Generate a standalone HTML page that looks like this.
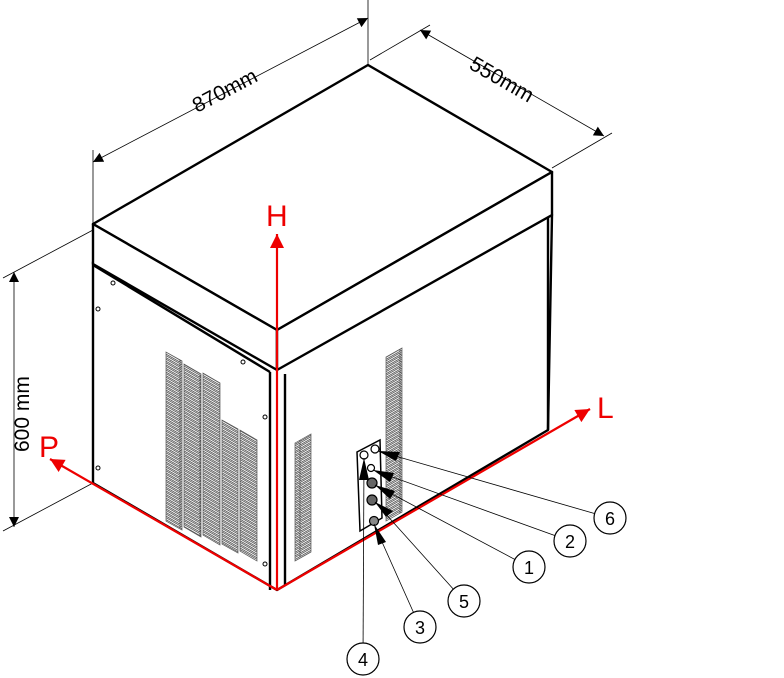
<!DOCTYPE html>
<html><head><meta charset="utf-8"><style>body{margin:0;background:#fff}svg{display:block}</style></head><body>
<svg width="784" height="678" viewBox="0 0 784 678" xmlns="http://www.w3.org/2000/svg" font-family="Liberation Sans, sans-serif">
<defs>
<pattern id="pl" width="20" height="3.6" patternUnits="userSpaceOnUse" patternTransform="skewY(30)">
<rect x="0" y="0.6" width="20" height="2" fill="none" stroke="#333" stroke-width="0.8"/>
</pattern>
<pattern id="pr" width="20" height="3.6" patternUnits="userSpaceOnUse" patternTransform="skewY(-30)">
<rect x="0" y="0.6" width="20" height="2" fill="none" stroke="#333" stroke-width="0.8"/>
</pattern>
<marker id="ab" viewBox="0 0 10 10" refX="10" refY="5" markerWidth="22" markerHeight="10" orient="auto-start-reverse" markerUnits="userSpaceOnUse"><path d="M0,0L10,5L0,10z" fill="#000"/></marker>
<marker id="ar" viewBox="0 0 10 10" refX="10" refY="5" markerWidth="24" markerHeight="14" orient="auto" markerUnits="userSpaceOnUse"><path d="M0,0L10,5L0,10z" fill="#e00"/></marker>
</defs>
<g stroke="#000" stroke-width="0.8" fill="none">
<line x1="93" y1="224" x2="93" y2="150"/>
<line x1="368" y1="65" x2="368" y2="0"/>
<line x1="93" y1="162" x2="368" y2="18" marker-start="url(#ab)" marker-end="url(#ab)"/>
<line x1="370" y1="60" x2="430" y2="25"/>
<line x1="552" y1="168" x2="612" y2="133"/>
<line x1="420" y1="30" x2="604" y2="136" marker-start="url(#ab)" marker-end="url(#ab)"/>
<line x1="93" y1="230" x2="3" y2="278"/>
<line x1="93" y1="483" x2="3" y2="531"/>
<line x1="14" y1="272" x2="14" y2="527" marker-start="url(#ab)" marker-end="url(#ab)"/>
</g>
<text x="0" y="0" font-size="21" transform="translate(197,113) rotate(-27.6)">870mm</text>
<text x="0" y="0" font-size="21" transform="translate(468,68) rotate(30)">550mm</text>
<text x="0" y="0" font-size="21" transform="translate(29,452) rotate(-90)">600 mm</text>
<g stroke="#000" stroke-width="2.4" fill="#fff" stroke-linejoin="round">
<polygon points="93,262 277,368 552,215 548,430 277,590 93,483"/>
<polygon points="93,224 368,65 552,172 277,330"/>
<polygon points="93,224 277,330 277,370 93,264"/>
<polygon points="277,330 552,172 552,215 277,370"/>
<line x1="93" y1="265" x2="270" y2="372"/>
<line x1="270" y1="372" x2="270" y2="590"/>
<line x1="285" y1="374" x2="285" y2="586"/>
<line x1="548" y1="217" x2="548" y2="430"/>
</g>
<g fill="none" stroke="#000" stroke-width="1">
<circle cx="113" cy="283" r="2"/><circle cx="98" cy="309" r="2"/><circle cx="243" cy="362" r="2"/>
<circle cx="265" cy="417" r="2"/><circle cx="265" cy="564" r="2"/><circle cx="98" cy="468" r="2"/>
</g>
<g stroke="#555" stroke-width="0.7">
<polygon points="166,352 182,361 182,530 166,521" fill="url(#pl)"/>
<polygon points="184,364 201,374 201,537 184,527" fill="url(#pl)"/>
<polygon points="203,373 220,383 220,545 203,535" fill="url(#pl)"/>
<polygon points="222,420 238,429 238,553 222,544" fill="url(#pl)"/>
<polygon points="240,430 257,440 257,561 240,551" fill="url(#pl)"/>
<polygon points="295,443 311,434 311,552 295,561" fill="url(#pr)"/>
<polygon points="386,357 402,348 402,512 386,521" fill="url(#pr)"/>
</g>
<g stroke="#e00" stroke-width="2.2" fill="none">
<line x1="277" y1="590" x2="277" y2="234" marker-end="url(#ar)"/>
<line x1="277" y1="590" x2="50" y2="459" marker-end="url(#ar)"/>
<line x1="277" y1="590" x2="590" y2="409" marker-end="url(#ar)"/>
</g>
<g fill="#e00" font-size="30">
<text x="266" y="226">H</text>
<text x="39" y="457">P</text>
<text x="597" y="418">L</text>
</g>
<polygon points="357,452 380,440 382,518 360,531" fill="#fff" stroke="#000" stroke-width="1.5"/>
<g stroke="#000" stroke-width="1.2">
<circle cx="364" cy="455" r="4" fill="#fff"/>
<circle cx="375" cy="449" r="4" fill="#fff"/>
<circle cx="371" cy="468" r="3.5" fill="#fff"/>
<circle cx="372" cy="483" r="5" fill="#666"/>
<circle cx="372" cy="500" r="5" fill="#666"/>
<circle cx="374" cy="521" r="4.5" fill="#888"/>
</g>
<g stroke="#000" stroke-width="0.8">
<line x1="378" y1="451" x2="610" y2="518"/>
<line x1="373" y1="470" x2="570" y2="541"/>
<line x1="375" y1="485" x2="529" y2="567"/>
<line x1="375" y1="502" x2="464" y2="601"/>
<line x1="374" y1="524" x2="420" y2="627"/>
<line x1="364" y1="458" x2="363" y2="659"/>
</g>
<g fill="#000">
<polygon points="378,451 400,452 396,461"/>
<polygon points="373,470 394,473 390,482"/>
<polygon points="375,485 395,491 390,499"/>
<polygon points="375,502 393,511 386,517"/>
<polygon points="374,524 386,542 378,545"/>
<polygon points="364,458 359,480 369,480"/>
</g>
<g fill="#fff" stroke="#000" stroke-width="1.2">
<circle cx="610" cy="518" r="16"/><circle cx="570" cy="541" r="16"/><circle cx="529" cy="567" r="16"/>
<circle cx="464" cy="601" r="16"/><circle cx="420" cy="627" r="16"/><circle cx="363" cy="659" r="16"/>
</g>
<g font-size="18" text-anchor="middle">
<text x="610" y="525">6</text><text x="570" y="548">2</text><text x="529" y="574">1</text>
<text x="464" y="608">5</text><text x="420" y="634">3</text><text x="363" y="666">4</text>
</g>
</svg>
</body></html>
